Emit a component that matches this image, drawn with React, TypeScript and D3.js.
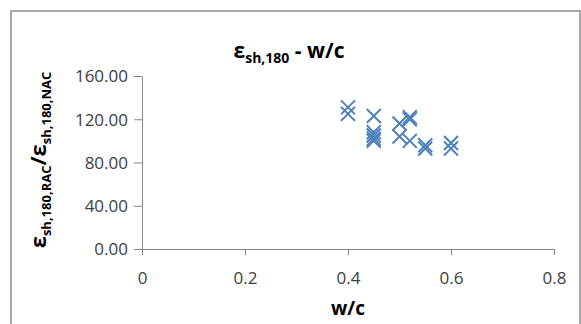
import { useRef, useEffect } from 'react';
import * as d3 from 'd3';

// w/c ratio and matching shrinkage ratio (RAC / NAC) at 180 days
const wcValues = [0.40, 0.40, 0.45, 0.45, 0.45, 0.45, 0.45, 0.50, 0.50, 0.52, 0.52, 0.52, 0.55, 0.55, 0.60, 0.60];
const ratioValues = [131, 125, 123, 108, 105, 102, 100, 116, 104, 122, 120, 100, 96, 93, 98, 93];

const xTicks = [0, 0.2, 0.4, 0.6, 0.8];
const yTicks = [0, 40, 80, 120, 160];

const W = 581;
const H = 324;

export default function App() {
  const svgRef = useRef<SVGSVGElement | null>(null);

  useEffect(() => {
    const svg = d3.select(svgRef.current);
    svg.selectAll('*').remove();

    const font = "'Open Sans', 'DejaVu Sans', sans-serif";
    const axisColor = '#868686';
    const textColor = '#404040';
    const markerColor = '#4F81BD';

    // outer chart border
    svg.append('rect')
      .attr('x', 11).attr('y', 11)
      .attr('width', 569).attr('height', 330)
      .attr('fill', '#fff')
      .attr('stroke', '#8c8c8c')
      .attr('stroke-width', 1.5);

    const x = d3.scaleLinear().domain([0, 0.8]).range([142, 554]);
    const y = d3.scaleLinear().domain([0, 160]).range([249, 76]);

    // x axis
    const gx = svg.append('g').attr('transform', 'translate(0,249)');
    gx.call(d3.axisBottom(x).tickValues(xTicks).tickSize(6).tickSizeOuter(0)
      .tickFormat((d) => (d === 0 ? '0' : String(d))));
    gx.select('.domain').attr('stroke', axisColor);
    gx.selectAll('line').attr('stroke', axisColor);
    gx.selectAll('text')
      .attr('fill', textColor)
      .attr('font-family', font)
      .attr('font-size', 17)
      .attr('dy', 0)
      .attr('y', 35);

    // y axis
    const gy = svg.append('g').attr('transform', 'translate(142,0)');
    gy.call(d3.axisLeft(y).tickValues(yTicks).tickSize(8).tickSizeOuter(0)
      .tickFormat((d) => (d as number).toFixed(2)));
    gy.select('.domain').attr('stroke', axisColor);
    gy.selectAll('line').attr('stroke', axisColor);
    gy.selectAll('text')
      .attr('fill', textColor)
      .attr('font-family', font)
      .attr('font-size', 17)
      .attr('x', -14)
      .attr('dy', '0.35em');

    // markers (x shape)
    const s = 7;
    const pts = wcValues.map((w, i) => ({ w, r: ratioValues[i] }));
    svg.append('g').selectAll('path')
      .data(pts)
      .join('path')
      .attr('d', (d) => {
        const cx = x(d.w);
        const cy = y(d.r);
        return `M${cx - s},${cy - s}L${cx + s},${cy + s}M${cx - s},${cy + s}L${cx + s},${cy - s}`;
      })
      .attr('stroke', markerColor)
      .attr('stroke-width', 2)
      .attr('fill', 'none');

    // title
    const title = svg.append('text')
      .attr('x', 289).attr('y', 58)
      .attr('text-anchor', 'middle')
      .attr('font-family', font)
      .attr('font-weight', 'bold')
      .attr('font-size', 21)
      .attr('fill', '#000');
    title.append('tspan').text('ε');
    title.append('tspan').attr('font-size', 14).attr('dy', 5).text('sh,180');
    title.append('tspan').attr('dy', -5).text(' - w/c');

    // x axis title
    svg.append('text')
      .attr('x', 348).attr('y', 315)
      .attr('text-anchor', 'middle')
      .attr('font-family', font)
      .attr('font-weight', 'bold')
      .attr('font-size', 19)
      .attr('fill', '#000')
      .text('w/c');

    // y axis title
    const yt = svg.append('text')
      .attr('transform', 'translate(46,160) rotate(-90)')
      .attr('text-anchor', 'middle')
      .attr('font-family', font)
      .attr('font-weight', 'bold')
      .attr('font-size', 22)
      .attr('fill', '#000');
    yt.append('tspan').text('ε');
    yt.append('tspan').attr('font-size', 13).attr('dy', 5).text('sh,180,RAC');
    yt.append('tspan').attr('dy', -5).text('/ε');
    yt.append('tspan').attr('font-size', 13).attr('dy', 5).text('sh,180,NAC');
  }, []);

  return (
    <svg
      ref={svgRef}
      width={W}
      height={H}
      style={{ position: 'absolute', left: 0, top: 0, background: '#fff' }}
    />
  );
}
